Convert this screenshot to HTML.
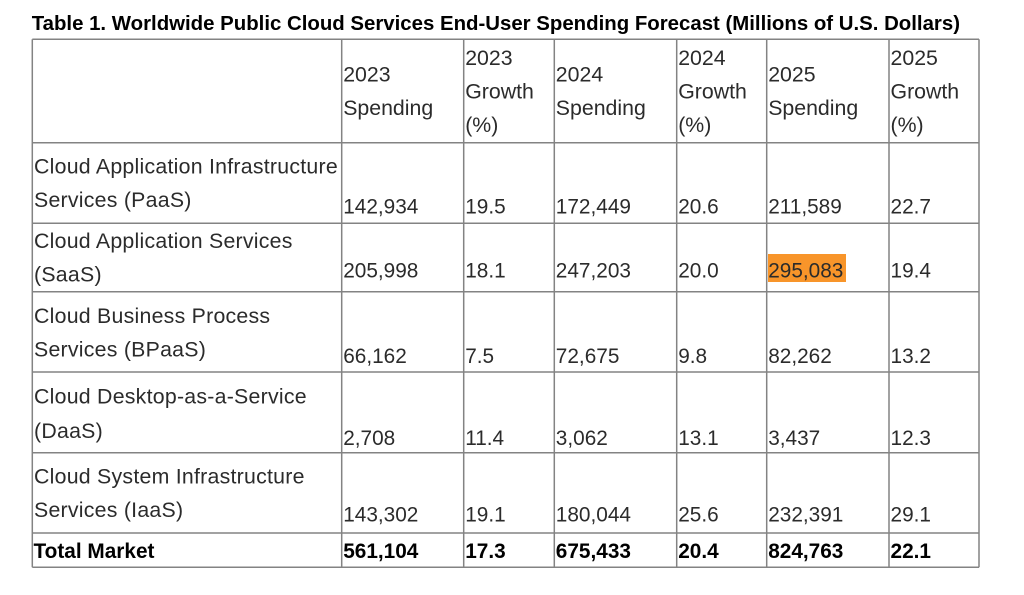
<!DOCTYPE html>
<html>
<head>
<meta charset="utf-8">
<style>
  html, body { margin: 0; padding: 0; background: #ffffff; }
  body { width: 1024px; height: 595px; overflow: hidden; }
  svg { display: block; }
  .t { font-family: "Liberation Sans", Arial, sans-serif; font-size: 21.3px; fill: #2b2b2b; }
  .l { font-family: "Liberation Sans", Arial, sans-serif; font-size: 21.3px; fill: #2b2b2b; letter-spacing: 0.25px; }
  .n { font-family: "Liberation Sans", Arial, sans-serif; font-size: 20.8px; fill: #2b2b2b; }
  .b { font-family: "Liberation Sans", Arial, sans-serif; font-size: 20.8px; font-weight: bold; fill: #000; }
  .title { font-family: "Liberation Sans", Arial, sans-serif; font-size: 20.4px; font-weight: bold; fill: #000; }
</style>
</head>
<body>
<svg width="1024" height="595" viewBox="0 0 1024 595" xmlns="http://www.w3.org/2000/svg">
  <rect x="0" y="0" width="1024" height="595" fill="#ffffff"/>

  <!-- Title -->
  <text class="title" x="31.7" y="30">Table 1. Worldwide Public Cloud Services End-User Spending Forecast (Millions of U.S. Dollars)</text>

  <!-- Highlight -->
  <rect x="768" y="254" width="78" height="28" fill="#F8952A"/>

  <!-- Grid lines -->
  <g stroke="#838383" stroke-width="1.5" fill="none">
    <line x1="32.3" y1="39.3" x2="979" y2="39.3"/>
    <line x1="32.3" y1="142.7" x2="979" y2="142.7"/>
    <line x1="32.3" y1="223.3" x2="979" y2="223.3"/>
    <line x1="32.3" y1="291.7" x2="979" y2="291.7"/>
    <line x1="32.3" y1="372" x2="979" y2="372"/>
    <line x1="32.3" y1="452.7" x2="979" y2="452.7"/>
    <line x1="32.3" y1="533" x2="979" y2="533"/>
    <line x1="32.3" y1="567.3" x2="979" y2="567.3"/>

    <line x1="32.3" y1="39.3" x2="32.3" y2="567.3"/>
    <line x1="341.7" y1="39.3" x2="341.7" y2="567.3"/>
    <line x1="463.7" y1="39.3" x2="463.7" y2="567.3"/>
    <line x1="554.3" y1="39.3" x2="554.3" y2="567.3"/>
    <line x1="676.7" y1="39.3" x2="676.7" y2="567.3"/>
    <line x1="766.7" y1="39.3" x2="766.7" y2="567.3"/>
    <line x1="889" y1="39.3" x2="889" y2="567.3"/>
    <line x1="979" y1="39.3" x2="979" y2="567.3"/>
  </g>

  <!-- Header -->
  <text class="t" x="343.2" y="81.7">2023</text>
  <text class="t" x="343.2" y="115.2">Spending</text>
  <text class="t" x="465.2" y="65">2023</text>
  <text class="t" x="465.2" y="98.5">Growth</text>
  <text class="t" x="465.2" y="132">(%)</text>
  <text class="t" x="555.8" y="81.7">2024</text>
  <text class="t" x="555.8" y="115.2">Spending</text>
  <text class="t" x="678.2" y="65">2024</text>
  <text class="t" x="678.2" y="98.5">Growth</text>
  <text class="t" x="678.2" y="132">(%)</text>
  <text class="t" x="768.2" y="81.7">2025</text>
  <text class="t" x="768.2" y="115.2">Spending</text>
  <text class="t" x="890.5" y="65">2025</text>
  <text class="t" x="890.5" y="98.5">Growth</text>
  <text class="t" x="890.5" y="132">(%)</text>

  <!-- Row 1 -->
  <text class="l" x="34" y="173.6">Cloud Application Infrastructure</text>
  <text class="l" x="34" y="207.1">Services (PaaS)</text>
  <text class="n" x="343.2" y="213.5">142,934</text>
  <text class="n" x="465.2" y="213.5">19.5</text>
  <text class="n" x="555.8" y="213.5">172,449</text>
  <text class="n" x="678.2" y="213.5">20.6</text>
  <text class="n" x="768.2" y="213.5">211,589</text>
  <text class="n" x="890.5" y="213.5">22.7</text>

  <!-- Row 2 -->
  <text class="l" x="34" y="248">Cloud Application Services</text>
  <text class="l" x="34" y="281.5">(SaaS)</text>
  <text class="n" x="343.2" y="277.5">205,998</text>
  <text class="n" x="465.2" y="277.5">18.1</text>
  <text class="n" x="555.8" y="277.5">247,203</text>
  <text class="n" x="678.2" y="277.5">20.0</text>
  <text class="n" x="768.2" y="277.5">295,083</text>
  <text class="n" x="890.5" y="277.5">19.4</text>

  <!-- Row 3 -->
  <text class="l" x="34" y="323">Cloud Business Process</text>
  <text class="l" x="34" y="356.5">Services (BPaaS)</text>
  <text class="n" x="343.2" y="363">66,162</text>
  <text class="n" x="465.2" y="363">7.5</text>
  <text class="n" x="555.8" y="363">72,675</text>
  <text class="n" x="678.2" y="363">9.8</text>
  <text class="n" x="768.2" y="363">82,262</text>
  <text class="n" x="890.5" y="363">13.2</text>

  <!-- Row 4 -->
  <text class="l" x="34" y="403.5">Cloud Desktop-as-a-Service</text>
  <text class="l" x="34" y="438">(DaaS)</text>
  <text class="n" x="343.2" y="445">2,708</text>
  <text class="n" x="465.2" y="445">11.4</text>
  <text class="n" x="555.8" y="445">3,062</text>
  <text class="n" x="678.2" y="445">13.1</text>
  <text class="n" x="768.2" y="445">3,437</text>
  <text class="n" x="890.5" y="445">12.3</text>

  <!-- Row 5 -->
  <text class="l" x="34" y="483.3">Cloud System Infrastructure</text>
  <text class="l" x="34" y="516.8">Services (IaaS)</text>
  <text class="n" x="343.2" y="521.5">143,302</text>
  <text class="n" x="465.2" y="521.5">19.1</text>
  <text class="n" x="555.8" y="521.5">180,044</text>
  <text class="n" x="678.2" y="521.5">25.6</text>
  <text class="n" x="768.2" y="521.5">232,391</text>
  <text class="n" x="890.5" y="521.5">29.1</text>

  <!-- Total -->
  <text class="b" x="33.5" y="558">Total Market</text>
  <text class="b" x="343.2" y="558">561,104</text>
  <text class="b" x="465.2" y="558">17.3</text>
  <text class="b" x="555.8" y="558">675,433</text>
  <text class="b" x="678.2" y="558">20.4</text>
  <text class="b" x="768.2" y="558">824,763</text>
  <text class="b" x="890.5" y="558">22.1</text>
</svg>
</body>
</html>
